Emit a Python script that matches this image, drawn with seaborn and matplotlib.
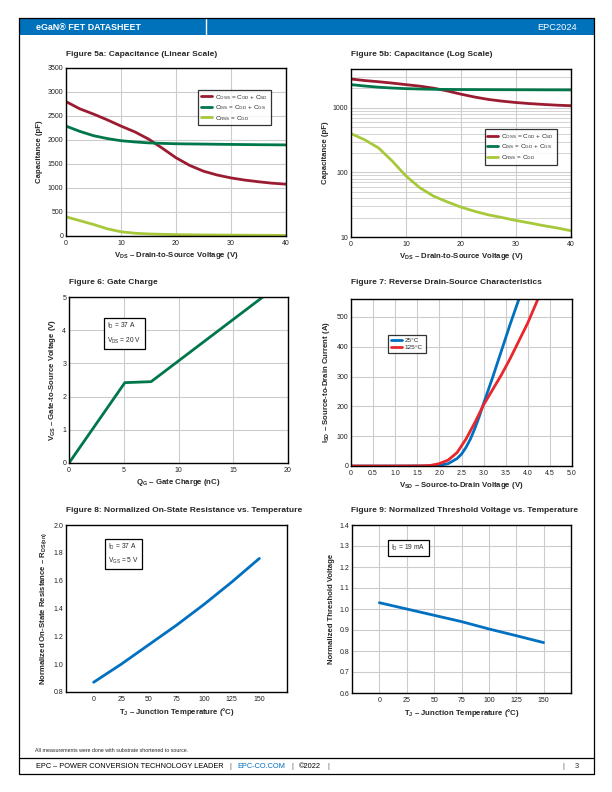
import matplotlib
matplotlib.use("Agg")
import matplotlib.pyplot as plt
import seaborn as sns
import pandas as pd
from matplotlib.patches import Rectangle
from matplotlib.lines import Line2D
from matplotlib.ticker import (MultipleLocator, LogLocator, NullFormatter, FixedLocator,
                               FormatStrFormatter, FuncFormatter)

# --- data ---
vds = [0, 2.5, 5, 7.5, 10, 12.5, 15, 17.5, 20, 22.5, 25, 27.5, 30, 32.5, 35, 37.5, 40]
coss_pf = [2800, 2650, 2540, 2420, 2290, 2170, 2020, 1830, 1630, 1470, 1350, 1270, 1210, 1165, 1130, 1100, 1080]
ciss_pf = [2290, 2180, 2090, 2030, 1985, 1960, 1940, 1930, 1922, 1918, 1915, 1911, 1908, 1905, 1902, 1900, 1898]
crss_pf = [400, 320, 240, 150, 88, 58, 43, 35, 29, 25, 22, 20, 18, 16.5, 15, 13.8, 12.5]

qg_nc = [0, 5.1, 7.5, 17.7]
vgs_v = [0, 2.42, 2.45, 5.0]

vsd_25 = [0, 1.0, 1.8, 2.0, 2.2, 2.4, 2.5, 2.6, 2.7, 2.8, 2.9, 3.0, 3.2, 3.4, 3.6, 3.8]
isd_25 = [0, 0, 0.5, 2, 8, 25, 40, 62, 90, 125, 165, 210, 295, 385, 475, 560]
vsd_125 = [0, 1.0, 1.6, 1.8, 2.0, 2.2, 2.4, 2.6, 2.8, 3.0, 3.2, 3.4, 3.6, 3.8, 4.0, 4.23]
isd_125 = [0, 0, 0.5, 2, 8, 20, 45, 90, 145, 205, 255, 305, 360, 420, 480, 560]

tj_c = [0, 25, 50, 75, 100, 125, 150]
rds_norm = [0.87, 1.0, 1.14, 1.28, 1.43, 1.59, 1.76]
vth_norm = [1.03, 1.0, 0.97, 0.94, 0.905, 0.873, 0.84]

footer_items = ["EPC – POWER CONVERSION TECHNOLOGY LEADER", "|", "EPC-CO.COM", "|", "©2022", "|"]

# --- style ---
sns.set_theme(style="white")
FONT = ["Liberation Sans", "DejaVu Sans"]
plt.rcParams["font.family"] = FONT
plt.rcParams["mathtext.fontset"] = "custom"
plt.rcParams["mathtext.rm"] = "Liberation Sans"
plt.rcParams["mathtext.bf"] = "Liberation Sans:bold"
plt.rcParams["mathtext.default"] = "regular"

W, H = 612, 792
C_OSS = "#9b1b30"
C_ISS = "#00774a"
C_RSS = "#a8c83c"
BLUE = "#0070c0"
RED = "#e8262b"
HDR = "#0072bc"
GRID = "#cccccc"
LW = 2.0

fig = plt.figure(figsize=(W / 100, H / 100), dpi=100)


def px_axes(l, t, r, b):
    return fig.add_axes([l / W, 1 - b / H, (r - l) / W, (b - t) / H])


def ftext(x, y, s, **kw):
    return fig.text(x / W, 1 - y / H, s, **kw)


def style_axes(ax, xlabel, ylabel):
    ax.grid(True, color=GRID, lw=0.8)
    ax.set_axisbelow(True)
    for sp in ax.spines.values():
        sp.set_color("black")
        sp.set_linewidth(1.0)
    ax.tick_params(length=0, labelsize=5, pad=2, colors="#222222")
    ax.tick_params(axis="x", pad=3)
    ax.set_xlabel(xlabel, fontsize=5.6, fontweight="bold", labelpad=2)
    ax.set_ylabel(ylabel, fontsize=5.6, fontweight="bold", labelpad=3)


def note_box(ax, x, y, s):
    ax.text(x, y, s, transform=ax.transAxes, fontsize=4.8, va="top", ha="left",
            linespacing=1.6,
            bbox=dict(boxstyle="square,pad=0.45", fc="white", ec="black", lw=0.9))


def add_legend(ax, loc_xy):
    leg = ax.legend(loc="upper left", bbox_to_anchor=loc_xy, fontsize=4.6, frameon=True,
                    fancybox=False, edgecolor="black", handlelength=1.7,
                    borderpad=0.45, labelspacing=0.25, handletextpad=0.5,
                    borderaxespad=0)
    leg.get_frame().set_linewidth(0.9)


cap_df = pd.DataFrame({"vds": vds, "coss": coss_pf, "ciss": ciss_pf, "crss": crss_pf})
lab_oss = r"C$_{OSS}$ = C$_{GD}$ + C$_{SD}$"
lab_iss = r"C$_{ISS}$ = C$_{GD}$ + C$_{GS}$"
lab_rss = r"C$_{RSS}$ = C$_{GD}$"

# Figure 5a
ax = px_axes(66, 68, 286, 236)
sns.lineplot(data=cap_df, x="vds", y="coss", color=C_OSS, lw=LW, ax=ax, label=lab_oss)
sns.lineplot(data=cap_df, x="vds", y="ciss", color=C_ISS, lw=LW, ax=ax, label=lab_iss)
sns.lineplot(data=cap_df, x="vds", y="crss", color=C_RSS, lw=LW, ax=ax, label=lab_rss)
ax.set_xlim(0, 40)
ax.set_ylim(0, 3500)
ax.xaxis.set_major_locator(MultipleLocator(10))
ax.yaxis.set_major_locator(MultipleLocator(500))
style_axes(ax, r"V$_{DS}$ – Drain-to-Source Voltage (V)", "Capacitance (pF)")
add_legend(ax, (0.60, 0.87))

# Figure 5b
ax = px_axes(351, 69, 571, 237)
sns.lineplot(data=cap_df, x="vds", y="coss", color=C_OSS, lw=LW, ax=ax, label=lab_oss)
sns.lineplot(data=cap_df, x="vds", y="ciss", color=C_ISS, lw=LW, ax=ax, label=lab_iss)
sns.lineplot(data=cap_df, x="vds", y="crss", color=C_RSS, lw=LW, ax=ax, label=lab_rss)
ax.set_yscale("log")
ax.set_xlim(0, 40)
ax.set_ylim(10, 4000)
ax.xaxis.set_major_locator(MultipleLocator(10))
ax.yaxis.set_major_locator(FixedLocator([10, 100, 1000]))
ax.yaxis.set_major_formatter(FuncFormatter(lambda v, p: f"{v:g}"))
ax.yaxis.set_minor_locator(LogLocator(base=10, subs=range(2, 10)))
ax.yaxis.set_minor_formatter(NullFormatter())
style_axes(ax, r"V$_{DS}$ – Drain-to-Source Voltage (V)", "Capacitance (pF)")
ax.grid(True, which="minor", axis="y", color=GRID, lw=0.6)
ax.tick_params(which="minor", length=0)
add_legend(ax, (0.607, 0.642))

# Figure 6
ax = px_axes(69, 297, 288, 463)
sns.lineplot(x=qg_nc, y=vgs_v, color=C_ISS, lw=LW, ax=ax)
ax.set_xlim(0, 20)
ax.set_ylim(0, 5)
ax.xaxis.set_major_locator(MultipleLocator(5))
ax.yaxis.set_major_locator(MultipleLocator(1))
style_axes(ax, r"Q$_G$ – Gate Charge (nC)", r"V$_{GS}$ – Gate-to-Source Voltage (V)")
note_box(ax, 0.175, 0.855, "I$_D$ = 37 A\nV$_{DS}$ = 20 V")

# Figure 7
ax = px_axes(351, 299, 572, 466)
sns.lineplot(x=vsd_25, y=isd_25, color=BLUE, lw=LW, ax=ax, label="25°C")
sns.lineplot(x=vsd_125, y=isd_125, color=RED, lw=LW, ax=ax, label="125°C")
ax.set_xlim(0, 5)
ax.set_ylim(0, 560)
ax.xaxis.set_major_locator(MultipleLocator(0.5))
ax.xaxis.set_major_formatter(FuncFormatter(lambda v, p: "0" if v == 0 else f"{v:.1f}"))
ax.yaxis.set_major_locator(MultipleLocator(100))
style_axes(ax, r"V$_{SD}$ – Source-to-Drain Voltage (V)", r"I$_{SD}$ – Source-to-Drain Current (A)")
add_legend(ax, (0.167, 0.786))

# Figure 8
ax = px_axes(66, 525, 287, 692)
sns.lineplot(x=tj_c, y=rds_norm, color=BLUE, lw=LW, ax=ax)
ax.set_xlim(-25, 175)
ax.set_ylim(0.8, 2.0)
ax.xaxis.set_major_locator(FixedLocator(tj_c))
ax.yaxis.set_major_locator(MultipleLocator(0.2))
ax.yaxis.set_major_formatter(FormatStrFormatter("%.1f"))
style_axes(ax, r"T$_J$ – Junction Temperature (°C)", r"Normalized On-State Resistance – R$_{DS(on)}$")
ax.grid(False)
note_box(ax, 0.19, 0.9, "I$_D$ = 37 A\nV$_{GS}$ = 5 V")

# Figure 9
ax = px_axes(352, 525, 571, 693)
sns.lineplot(x=tj_c, y=vth_norm, color=BLUE, lw=LW, ax=ax)
ax.set_xlim(-25, 175)
ax.set_ylim(0.6, 1.4)
ax.xaxis.set_major_locator(FixedLocator(tj_c))
ax.yaxis.set_major_locator(MultipleLocator(0.1))
ax.yaxis.set_major_formatter(FormatStrFormatter("%.1f"))
style_axes(ax, r"T$_J$ – Junction Temperature (°C)", "Normalized Threshold Voltage")
note_box(ax, 0.18, 0.895, "I$_D$ = 19 mA")

# figure titles
tkw = dict(fontsize=6, fontweight="bold", ha="left", va="center")
ftext(66, 55, "Figure 5a: Capacitance (Linear Scale)", **tkw)
ftext(351, 55, "Figure 5b: Capacitance (Log Scale)", **tkw)
ftext(69, 282, "Figure 6: Gate Charge", **tkw)
ftext(351, 282, "Figure 7: Reverse Drain-Source Characteristics", **tkw)
ftext(66, 511, "Figure 8: Normalized On-State Resistance vs. Temperature", **tkw)
ftext(351, 510, "Figure 9: Normalized Threshold Voltage vs. Temperature", **tkw)

# page frame, header and footer
fig.add_artist(Rectangle((19 / W, 1 - 35 / H), (594 - 19) / W, 17 / H,
                         transform=fig.transFigure, fc=HDR, ec="none"))
fig.add_artist(Line2D([206 / W, 206 / W], [1 - 19 / H, 1 - 34 / H], color="white", lw=1.0))
ftext(36, 27, "eGaN® FET DATASHEET", fontsize=6.4, fontweight="bold", color="white", ha="left", va="center")
ftext(577, 27, "EPC2024", fontsize=6.7, color="white", ha="right", va="center")
frame = [((19, 18), (19, 774)), ((594, 18), (594, 774)), ((19, 18), (594, 18)),
         ((19, 774), (594, 774)), ((19, 758), (594, 758))]
for (x0, y0), (x1, y1) in frame:
    fig.add_artist(Line2D([x0 / W, x1 / W], [1 - y0 / H, 1 - y1 / H], color="black", lw=0.9))

ftext(35, 750, "All measurements were done with substrate shortened to source.", fontsize=3.8, ha="left", va="center")

# footer: lay the pieces out one after another so they never collide
renderer = fig.canvas.get_renderer()
x_px = 36
for item in footer_items:
    col = BLUE if item == "EPC-CO.COM" else ("#555555" if item == "|" else "black")
    t = ftext(x_px, 767, item, fontsize=5.3, ha="left", va="center", color=col)
    x_px = t.get_window_extent(renderer).x1 + 6
ftext(562, 767, "|", fontsize=5.3, ha="left", va="center", color="#555555")
ftext(575, 767, "3", fontsize=5.3, ha="left", va="center")

fig.savefig("out.png", dpi=100)
